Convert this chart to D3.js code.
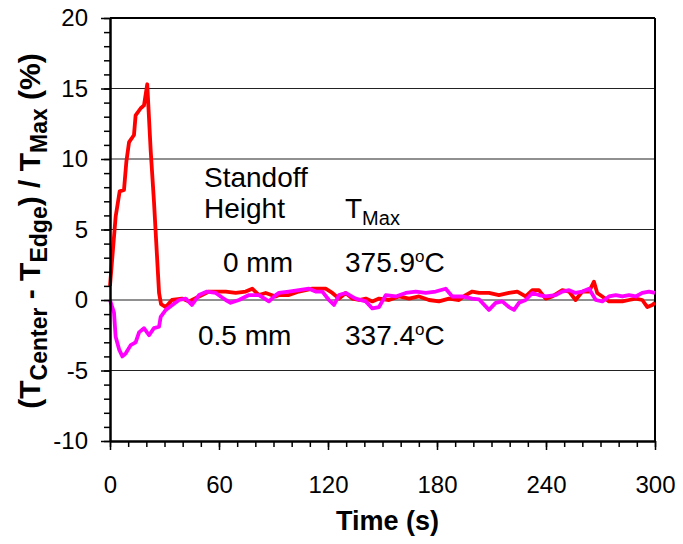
<!DOCTYPE html>
<html>
<head>
<meta charset="utf-8">
<script src="https://cdn.jsdelivr.net/npm/d3@7/dist/d3.min.js"></script>
<style>
  body { margin: 0; background: #fff; }
  svg { display: block; font-family: "Liberation Sans", Arial, sans-serif; }
</style>
</head>
<body>
<svg id="chart" width="683" height="544"></svg>
<script>
// ------------ DATA -----------------

// 0 mm standoff (red): time (s), value (%)
const redTime = [0, 3.1, 5.3, 7.7, 9.0, 10.5, 13.2, 14.1, 16.9, 18.7, 20.5, 22.4, 24.2, 27.0, 28.1, 30.7, 34.1,
  39.6, 43.5, 49.0, 54.5, 58.2, 63.7, 69.2, 74.7, 78.3, 82.0, 85.7, 91.2, 93.0, 98.5, 104.0, 111.4, 118.7,
  122.4, 126.1, 129.7, 133.4, 137.1, 140.8, 144.4, 148.1, 153.6, 159.1, 164.6, 170.1, 175.6, 181.1, 186.6,
  192.1, 195.8, 199.4, 203.1, 208.6, 214.1, 219.6, 224.2, 228.8, 232.5, 236.1, 239.8, 243.5, 249.0, 252.7,
  256.3, 260.0, 263.7, 266.4, 268.2, 271.0, 274.7, 278.4, 282.0, 285.7, 289.4, 293.0, 295.8, 298.5, 300];
const redValue = [1.0, 5.9, 7.7, 7.8, 9.8, 11.2, 11.7, 13.1, 13.6, 13.8, 15.3, 10.6, 7.0, 0.5, -0.3, -0.5, 0,
  0.1, -0.1, 0.25, 0.6, 0.6, 0.6, 0.5, 0.6, 0.8, 0.35, 0.5, 0.25, 0.35, 0.35, 0.6, 0.8, 0.8,
  0.5, 0.1, 0.5, 0.1, 0, 0.1, -0.1, 0.1, 0, 0.25, 0.1, 0.25, 0, -0.1, 0.1,
  0, 0.35, 0.6, 0.5, 0.5, 0.35, 0.5, 0.6, 0.25, 0.7, 0.7, 0.1, 0.25, 0.7, 0.6,
  0, 0.6, 0.6, 1.3, 0.5, 0.25, -0.1, -0.1, -0.1, 0, 0.1, 0, -0.5, -0.35, -0.2];

// 0.5 mm standoff (magenta)
const magTime = [0, 2.2, 3.1, 5.0, 6.8, 8.6, 11.4, 14.1, 16.0, 18.7, 21.5, 24.2, 27.0, 27.9, 30.7, 34.3,
  38.0, 41.7, 45.1, 49.0, 53.4, 58.2, 63.7, 66.4, 71.0, 76.5, 82.0, 87.5, 91.2, 93.0, 98.5, 104.0, 109.5,
  113.2, 116.9, 120.5, 123.3, 126.1, 129.7, 135.2, 140.8, 144.4, 148.1, 151.8, 157.3, 162.8, 168.3, 173.8,
  179.3, 184.8, 188.4, 193.9, 199.4, 203.1, 208.6, 212.3, 215.9, 219.6, 222.4, 225.1, 228.8, 232.5, 236.1,
  239.8, 245.3, 249.0, 252.7, 256.3, 260.0, 263.7, 267.4, 271.0, 274.7, 278.4, 282.0, 285.7, 289.4, 293.0,
  296.7, 300];
const magValue = [0, -0.9, -2.6, -3.5, -4.0, -3.8, -3.2, -3.0, -2.3, -2.0, -2.5, -2.0, -1.9, -1.2, -0.7, -0.35,
  0, 0.1, -0.35, 0.35, 0.6, 0.5, 0, -0.2, 0, 0.35, 0.35, -0.1, 0.35, 0.5, 0.6, 0.7, 0.8,
  0.6, 0.6, 0, -0.35, 0.35, 0.5, 0.1, -0.1, -0.6, -0.5, 0.35, 0.25, 0.5, 0.6, 0.5,
  0.6, 0.8, 0.25, 0.25, 0.1, 0.05, -0.7, -0.2, -0.1, -0.5, -0.7, -0.2, 0, 0.5, 0.35,
  0.25, 0.35, 0.6, 0.7, 0.5, 0.6, 0.8, 0, -0.1, 0.25, 0.35, 0.25, 0.35, 0.25, 0.5,
  0.6, 0.5];

const yMajor = [-10, -5, 0, 5, 10, 15, 20];
const yGrid = [-5, 0, 5, 10, 15];
const xMajor = [0, 60, 120, 180, 240, 300];

// ------------ SETUP -----------------

const svg = d3.select("#chart");
const plotLeft = 110, plotRight = 655, plotTop = 18, plotBottom = 441;

const x = d3.scaleLinear().domain([0, 300]).range([plotLeft, plotRight]);
const y = d3.scaleLinear().domain([-10, 20]).range([plotBottom, plotTop]);

// grid lines
svg.append("g")
  .selectAll("line")
  .data(yGrid)
  .join("line")
  .attr("x1", plotLeft).attr("x2", plotRight)
  .attr("y1", d => y(d)).attr("y2", d => y(d))
  .attr("stroke", "#222")
  .attr("stroke-width", 1.2);

// frame top / right
svg.append("line").attr("x1", plotLeft).attr("x2", plotRight).attr("y1", plotTop).attr("y2", plotTop)
  .attr("stroke", "#000").attr("stroke-width", 2);
svg.append("line").attr("x1", plotRight).attr("x2", plotRight).attr("y1", plotTop).attr("y2", plotBottom)
  .attr("stroke", "#000").attr("stroke-width", 2);

// ------------ SERIES -----------------

const line = d3.line().x(d => x(d[0])).y(d => y(d[1]));

svg.append("path")
  .datum(redTime.map((t, i) => [t, redValue[i]]))
  .attr("d", line)
  .attr("fill", "none")
  .attr("stroke", "#ff0000")
  .attr("stroke-width", 3.8)
  .attr("stroke-linejoin", "round");

svg.append("path")
  .datum(magTime.map((t, i) => [t, magValue[i]]))
  .attr("d", line)
  .attr("fill", "none")
  .attr("stroke", "#ff00ff")
  .attr("stroke-width", 3.8)
  .attr("stroke-linejoin", "round");

// ------------ AXES -----------------

const plain = d => String(d);   // keep hyphen-minus like the original

const yMinor = svg.append("g")
  .attr("transform", `translate(${plotLeft},0)`)
  .call(d3.axisLeft(y).tickValues(d3.range(-10, 21, 1)).tickSize(6).tickSizeOuter(0).tickFormat(""));
yMinor.select(".domain").remove();

const yAxis = svg.append("g")
  .attr("transform", `translate(${plotLeft},0)`)
  .call(d3.axisLeft(y).tickValues(yMajor).tickSize(9).tickSizeOuter(0).tickPadding(13).tickFormat(plain));
yAxis.selectAll("text").attr("font-size", 24).attr("font-family", "Liberation Sans, Arial, sans-serif").attr("fill", "#000");
yAxis.select(".domain").attr("stroke-width", 2.5);

const xMinor = svg.append("g")
  .attr("transform", `translate(0,${plotBottom})`)
  .call(d3.axisBottom(x).tickValues(d3.range(0, 301, 10)).tickSize(6).tickSizeOuter(0).tickFormat(""));
xMinor.select(".domain").remove();

const xAxis = svg.append("g")
  .attr("transform", `translate(0,${plotBottom})`)
  .call(d3.axisBottom(x).tickValues(xMajor).tickSize(9).tickSizeOuter(0).tickPadding(26).tickFormat(plain));
xAxis.selectAll("text").attr("font-size", 24).attr("font-family", "Liberation Sans, Arial, sans-serif").attr("fill", "#000");
xAxis.select(".domain").attr("stroke-width", 2.5);

svg.selectAll(".tick line").attr("stroke-width", 1.5);

// axis titles
svg.append("text")
  .attr("x", (plotLeft + plotRight) / 2 + 5)
  .attr("y", 530)
  .attr("text-anchor", "middle")
  .attr("font-size", 27)
  .attr("font-weight", "bold")
  .text("Time (s)");

const yTitle = svg.append("text")
  .attr("transform", "translate(40,231) rotate(-90)")
  .attr("text-anchor", "middle")
  .attr("font-size", 30)
  .attr("font-weight", "bold");
yTitle.append("tspan").text("(T");
yTitle.append("tspan").attr("font-size", 23).attr("dy", 7).text("Center");
yTitle.append("tspan").attr("dy", -7).text(" - T");
yTitle.append("tspan").attr("font-size", 23).attr("dy", 7).text("Edge");
yTitle.append("tspan").attr("dy", -7).text(") / T");
yTitle.append("tspan").attr("font-size", 23).attr("dy", 7).text("Max");
yTitle.append("tspan").attr("dy", -7).text(" (%)");

// ------------ ANNOTATIONS -----------------

const ann = svg.append("g").attr("font-size", 28).attr("fill", "#000");

ann.append("text").attr("x", 204).attr("y", 187).text("Standoff");
ann.append("text").attr("x", 204).attr("y", 218).text("Height");

const tmax = ann.append("text").attr("x", 345).attr("y", 218);
tmax.append("tspan").text("T");
tmax.append("tspan").attr("font-size", 20).attr("dy", 7).text("Max");

ann.append("text").attr("x", 223).attr("y", 272).text("0 mm");
ann.append("text").attr("x", 198).attr("y", 345).text("0.5 mm");

function tempLabel(yPos, value) {
  const t = ann.append("text").attr("x", 345).attr("y", yPos);
  t.append("tspan").text(value);
  t.append("tspan").attr("font-size", 17).attr("dy", -10).text("o");
  t.append("tspan").attr("dy", 10).text("C");
}
tempLabel(272, "375.9");
tempLabel(345, "337.4");
</script>
</body>
</html>
